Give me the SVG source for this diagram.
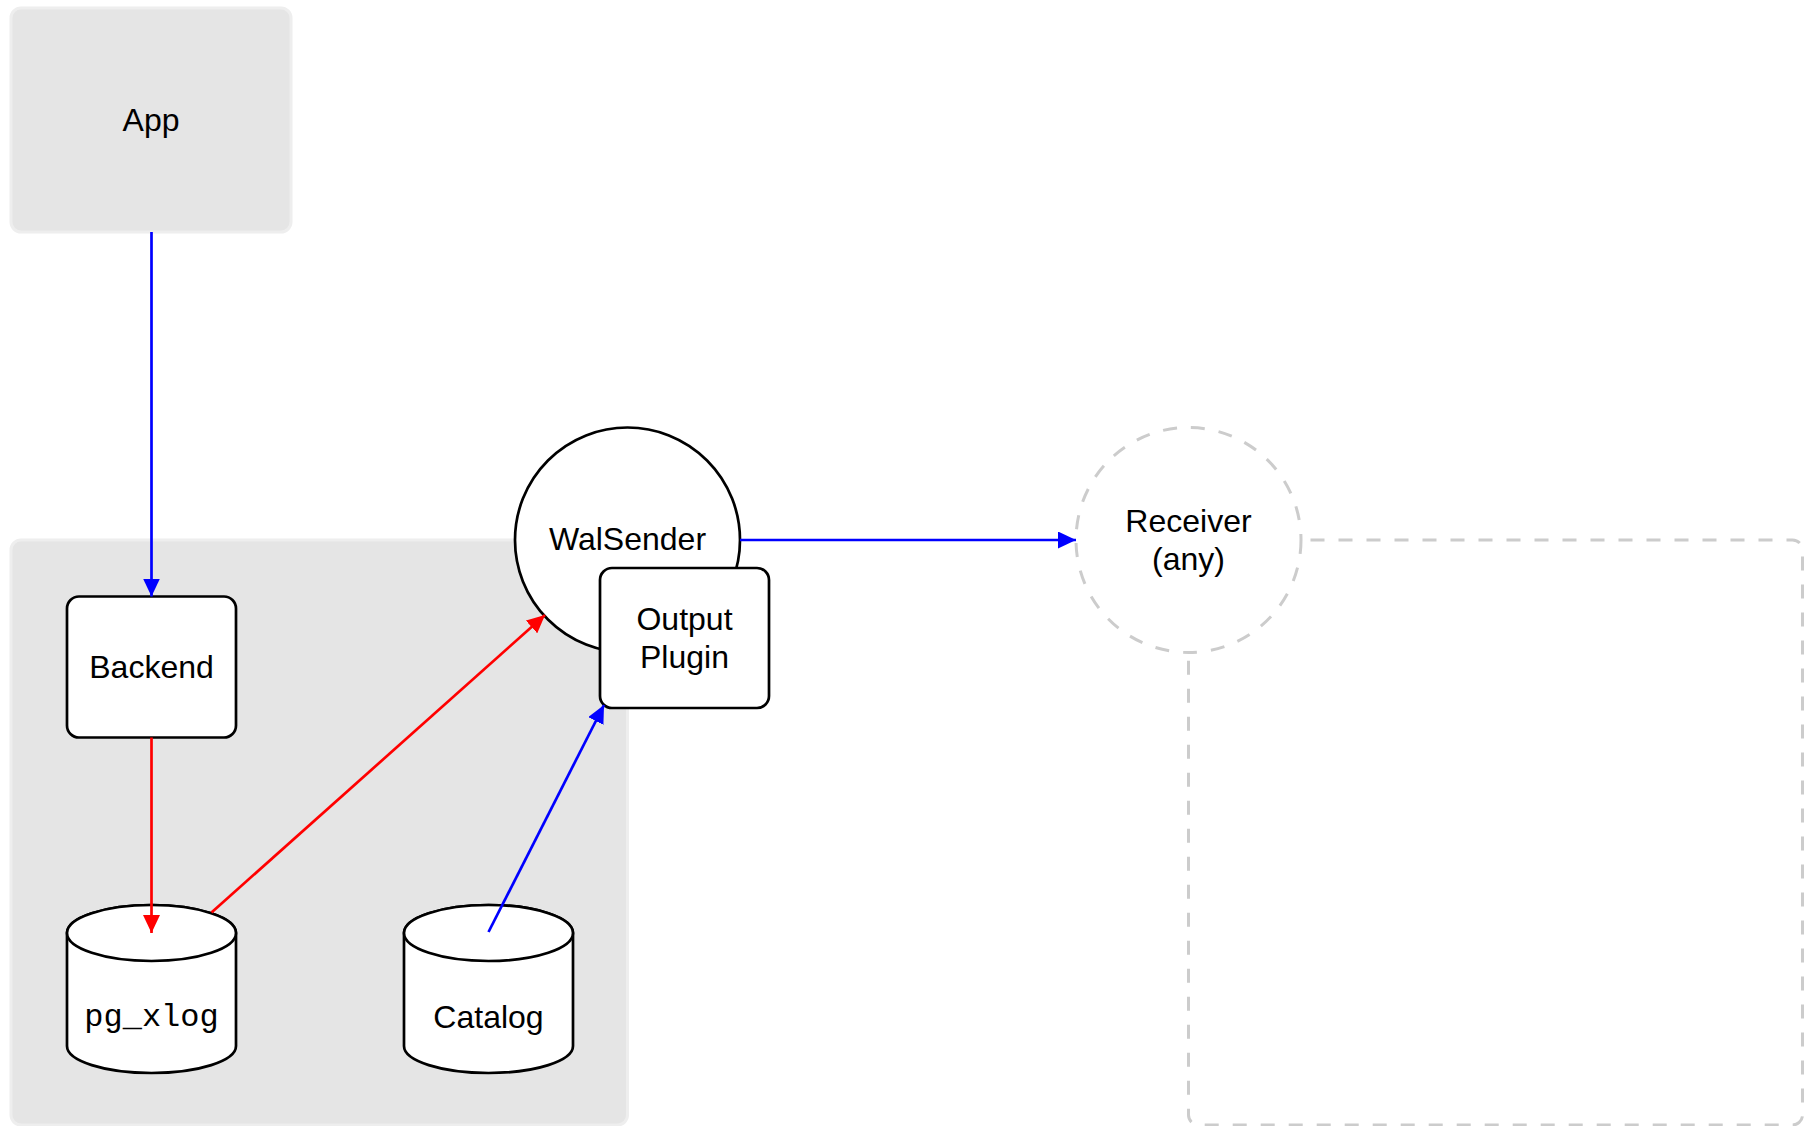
<svg xmlns="http://www.w3.org/2000/svg" width="1805" height="1126" viewBox="0 0 1805 1126">
  <style>
    .label { font-family: "Liberation Sans", Arial, sans-serif; font-size: 32px; fill: #000; text-anchor: middle; }
    .mono { font-family: "Liberation Mono", "Courier New", monospace; font-size: 32px; fill: #000; text-anchor: middle; }
    .zone { fill: #e5e5e5; stroke: #eeeeee; stroke-width: 3; }
    .remote { fill: none; stroke: #cccccc; stroke-width: 3; stroke-dasharray: 14 14; }
    .shape { fill: #ffffff; stroke: #000000; stroke-width: 2.7; }
    .remote-node { fill: #ffffff; stroke: #cccccc; stroke-width: 3; stroke-dasharray: 14 14; }
    .blue { fill: none; stroke: #0000ff; stroke-width: 2.7; }
    .red { fill: none; stroke: #ff0000; stroke-width: 2.7; }
  </style>
  <defs>
    <marker id="head-blue" markerUnits="userSpaceOnUse" markerWidth="18" markerHeight="17" refX="18" refY="8.5" orient="auto">
      <path d="M0,0 L18,8.5 L0,17 Z" fill="#0000ff"/>
    </marker>
    <marker id="head-red" markerUnits="userSpaceOnUse" markerWidth="18" markerHeight="17" refX="18" refY="8.5" orient="auto">
      <path d="M0,0 L18,8.5 L0,17 Z" fill="#ff0000"/>
    </marker>
  </defs>

  <!-- server host area and remote area -->
  <g id="server-area">
    <rect class="zone" x="11" y="540" width="616.5" height="585" rx="10"/>
  </g>
  <g id="remote-area">
    <rect class="remote" x="1188.5" y="540" width="614" height="585" rx="10"/>
  </g>

  <g id="app">
    <rect class="zone" x="11" y="8" width="280" height="224" rx="10"/>
    <text class="label" x="151" y="131">App</text>
  </g>

  <g id="backend">
    <rect class="shape" x="67" y="596.5" width="169" height="141" rx="12"/>
    <text class="label" x="151.5" y="678">Backend</text>
  </g>

  <g id="pg_xlog">
    <path class="shape" d="M67,933 L67,1046 A84.5,27 0 0 0 236,1046 L236,933 A84.5,28 0 0 0 67,933 Z"/>
    <ellipse class="shape" cx="151.5" cy="933" rx="84.5" ry="28"/>
    <text class="mono" x="151.5" y="1026">pg_xlog</text>
  </g>

  <g id="catalog">
    <path class="shape" d="M404,933 L404,1046 A84.5,27 0 0 0 573,1046 L573,933 A84.5,28 0 0 0 404,933 Z"/>
    <ellipse class="shape" cx="488.5" cy="933" rx="84.5" ry="28"/>
    <text class="label" x="488.5" y="1028">Catalog</text>
  </g>

  <g id="walsender">
    <circle class="shape" cx="627.5" cy="540" r="112.5"/>
    <text class="label" x="627.5" y="550">WalSender</text>
  </g>

  <g id="output-plugin">
    <rect class="shape" x="600" y="568" width="169" height="140" rx="12"/>
    <text class="label" x="684.5" y="630">Output</text>
    <text class="label" x="684.5" y="668">Plugin</text>
  </g>

  <g id="receiver">
    <circle class="remote-node" cx="1188.5" cy="540" r="112.5"/>
    <text class="label" x="1188.5" y="532">Receiver</text>
    <text class="label" x="1188.5" y="570">(any)</text>
  </g>

  <g id="connectors">
    <line class="blue" x1="151.5" y1="232" x2="151.5" y2="596.5" marker-end="url(#head-blue)"/>
    <line class="red" x1="151.5" y1="737.5" x2="151.5" y2="933" marker-end="url(#head-red)"/>
    <line class="red" x1="211.5" y1="912.5" x2="545" y2="615" marker-end="url(#head-red)"/>
    <line class="blue" x1="488.5" y1="932" x2="604" y2="705" marker-end="url(#head-blue)"/>
    <line class="blue" x1="740" y1="540" x2="1076" y2="540" marker-end="url(#head-blue)"/>
  </g>
</svg>
